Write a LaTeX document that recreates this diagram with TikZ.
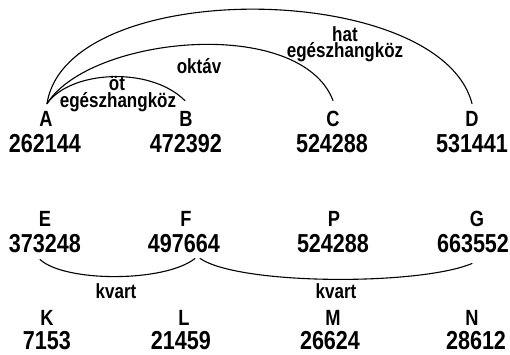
\documentclass[tikz,border=0pt]{standalone}
\usepackage{fontspec}
\newfontfamily\narrowsans[FakeStretch=0.83]{Liberation Sans}
\usetikzlibrary{calc}
\tikzset{
  letter/.style={anchor=base, inner sep=0pt, font={\narrowsans\bfseries\fontsize{22}{26}\selectfont}},
  number/.style={anchor=base, inner sep=0pt, font={\narrowsans\bfseries\fontsize{26}{30}\selectfont}},
  interval/.style={anchor=base, inner sep=0pt, font={\narrowsans\bfseries\fontsize{20.5}{24}\selectfont}},
  arc/.style={line width=1.1pt, line cap=round}
}
\begin{document}
\begin{tikzpicture}[x=1pt, y=1pt]
  \useasboundingbox[fill=white] (0,0) rectangle (510,354);

  % first row: tones with their numbers
  \node[letter] (A) at (46,228) {A};
  \node[letter] (B) at (186,228) {B};
  \node[letter] (C) at (333,228) {C};
  \node[letter] (D) at (472,228) {D};
  \node[number] (nA) at (45,202) {262144};
  \node[number] (nB) at (186,202) {472392};
  \node[number] (nC) at (332,202) {524288};
  \node[number] (nD) at (472,202) {531441};

  % second row
  \node[letter] (E) at (45,128) {E};
  \node[letter] (F) at (186,128) {F};
  \node[letter] (P) at (334,128) {P};
  \node[letter] (G) at (477,128) {G};
  \node[number] (nE) at (45,102) {373248};
  \node[number] (nF) at (184,102) {497664};
  \node[number] (nP) at (333,102) {524288};
  \node[number] (nG) at (473,102) {663552};

  % third row
  \node[letter] (K) at (47,29) {K};
  \node[letter] (L) at (184,29) {L};
  \node[letter] (M) at (333,29) {M};
  \node[letter] (N) at (472,29) {N};
  \node[number] (nK) at (47,5) {7153};
  \node[number] (nL) at (181,5) {21459};
  \node[number] (nM) at (330,5) {26624};
  \node[number] (nN) at (476,5) {28612};

  % arcs over the first row
  \draw[arc] ($(A.north)+(1,7)$) .. controls +(23,33) and +(-35,35) .. ($(B.north)+(-1,10)$);
  \draw[arc] ($(A.north)+(1,7)$) .. controls +(43,68) and +(-33,85) .. ($(C.north)+(0,10)$);
  \draw[arc] ($(A.north)+(1,7)$) .. controls +(20,128) and +(-32,124) .. ($(D.north)+(0,7)$);

  % arcs under the second row
  \draw[arc] ($(nE.south)+(-5,-7)$) .. controls +(25,-23) and +(-30,-24) .. ($(nF.south)+(11,-6)$);
  \draw[arc] ($(nF.south)+(16,-6)$) .. controls +(40,-27) and +(-52,-22) .. ($(nG.south)+(-1,-11)$);

  % interval names
  \node[interval] (lab1a) at (117,263) {öt};
  \node[interval] (lab1b) at (118,247) {egészhangköz};
  \node[interval] (lab2) at (199,280) {oktáv};
  \node[interval] (lab3a) at (345,312) {hat};
  \node[interval] (lab3b) at (345,296) {egészhangköz};
  \node[interval] (lab4) at (116,56) {kvart};
  \node[interval] (lab5) at (336,56) {kvart};
\end{tikzpicture}
\end{document}
